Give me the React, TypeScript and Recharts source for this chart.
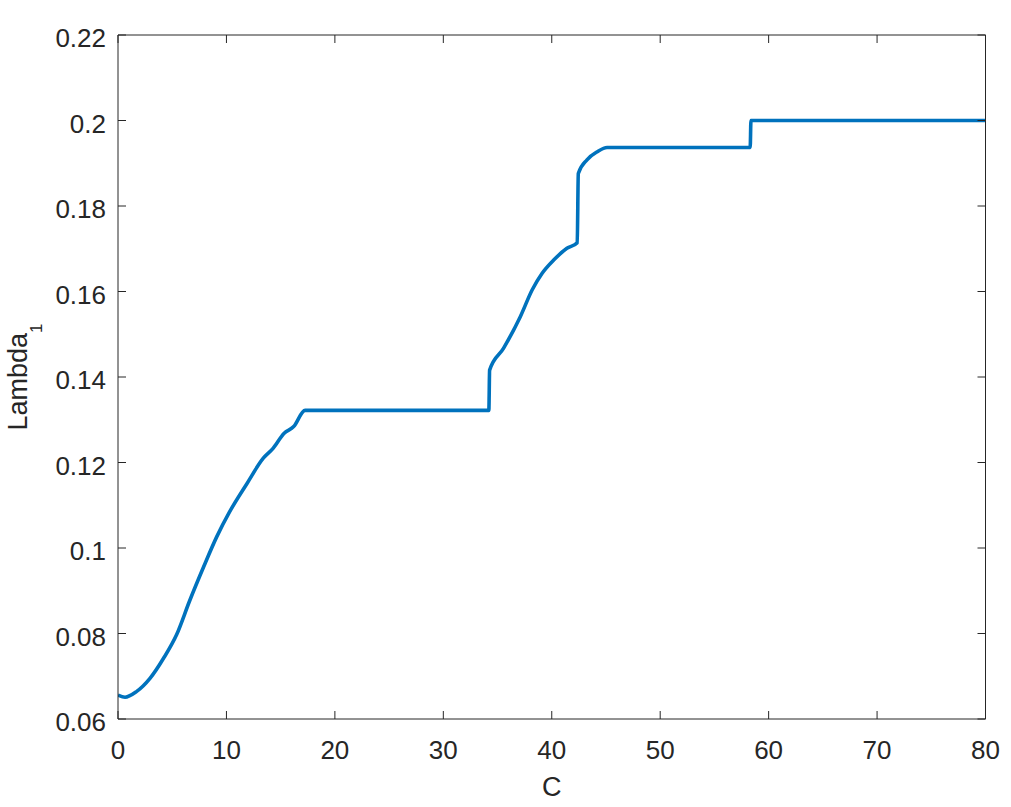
import { Label, Line, LineChart, XAxis, YAxis } from "recharts";

// values
const cValues = [
  0, 0.65, 1.7, 2.95, 4.2, 5.4, 6.6, 7.9, 9.1, 10.3, 11.9, 13.4, 14.3, 15.3, 16.2, 17.25,
  34.2, 34.27, 35.55, 37.1, 38.2, 39.1, 40.2, 41.4, 42.35, 42.45, 43.25, 44.2, 45.1,
  58.3, 58.37, 80,
];
const lambdaValues = [
  0.0656, 0.0651, 0.0664, 0.0695, 0.0742, 0.0797, 0.0876, 0.0956, 0.1026, 0.1085, 0.1151, 0.121, 0.1233, 0.1268,
  0.1284, 0.1322, 0.1322, 0.1416, 0.1467, 0.1541, 0.1604, 0.1642, 0.1674, 0.1701, 0.1714, 0.1876, 0.1908, 0.1927,
  0.1937, 0.1937, 0.2, 0.2,
];
const xTicks = [0, 10, 20, 30, 40, 50, 60, 70, 80];
const yTicks = [0.06, 0.08, 0.1, 0.12, 0.14, 0.16, 0.18, 0.2, 0.22];

const data = cValues.map((c, i) => ({ c, v: lambdaValues[i] }));

const AXIS = "#262626";
const FONT = "'Liberation Sans', Arial, Helvetica, sans-serif";
const TICK_LEN = 8;

function BottomTick({ x, y, payload }: any) {
  return (
    <g>
      <line x1={x} x2={x} y1={y} y2={y - TICK_LEN} stroke={AXIS} strokeWidth={1} />
      <text x={x} y={y + 40} textAnchor="middle" fill={AXIS} fontSize={26} fontFamily={FONT}>
        {payload.value}
      </text>
    </g>
  );
}

function LeftTick({ x, y, payload }: any) {
  return (
    <g>
      <line x1={x} x2={x + TICK_LEN} y1={y} y2={y} stroke={AXIS} strokeWidth={1} />
      <text x={x - 12} y={y + 12} textAnchor="end" fill={AXIS} fontSize={26} fontFamily={FONT}>
        {String(payload.value)}
      </text>
    </g>
  );
}

function TopTick({ x, y }: any) {
  return <line x1={x} x2={x} y1={y} y2={y + TICK_LEN} stroke={AXIS} strokeWidth={1} />;
}

function RightTick({ x, y }: any) {
  return <line x1={x} x2={x - TICK_LEN} y1={y} y2={y} stroke={AXIS} strokeWidth={1} />;
}

function YLabel({ viewBox }: any) {
  const cy = viewBox.y + viewBox.height / 2;
  return (
    <text
      transform={`translate(26.5,${cy}) rotate(-90)`}
      textAnchor="middle"
      fill={AXIS}
      fontSize={27}
      fontFamily={FONT}
    >
      Lambda
      <tspan fontSize={17} dy={15}>
        1
      </tspan>
    </text>
  );
}

export default function App() {
  return (
    <div style={{ position: "absolute", left: 0, top: 0, width: 1011, height: 807, background: "#fff" }}>
      <LineChart width={1011} height={807} data={data} margin={{ top: 34, right: 24.5, bottom: 0, left: 0 }}>
        <XAxis
          xAxisId="bottom"
          dataKey="c"
          type="number"
          domain={[0, 80]}
          ticks={xTicks}
          allowDataOverflow
          height={88}
          tickSize={0}
          tickMargin={0}
          tickLine={false}
          axisLine={{ stroke: AXIS, strokeWidth: 1 }}
          tick={<BottomTick />}
          label={{ value: "C", position: "insideBottom", offset: 11, fill: AXIS, fontSize: 27, fontFamily: FONT }}
        />
        <XAxis
          xAxisId="top"
          orientation="top"
          dataKey="c"
          type="number"
          domain={[0, 80]}
          ticks={xTicks}
          allowDataOverflow
          height={1}
          tickSize={0}
          tickMargin={0}
          tickLine={false}
          axisLine={{ stroke: AXIS, strokeWidth: 1 }}
          tick={<TopTick />}
        />
        <YAxis
          yAxisId="left"
          dataKey="v"
          type="number"
          domain={[0.06, 0.22]}
          ticks={yTicks}
          allowDataOverflow
          width={118}
          tickSize={0}
          tickMargin={0}
          tickLine={false}
          axisLine={{ stroke: AXIS, strokeWidth: 1 }}
          tick={<LeftTick />}
        >
          <Label content={<YLabel />} />
        </YAxis>
        <YAxis
          yAxisId="right"
          orientation="right"
          dataKey="v"
          type="number"
          domain={[0.06, 0.22]}
          ticks={yTicks}
          allowDataOverflow
          width={1}
          tickSize={0}
          tickMargin={0}
          tickLine={false}
          axisLine={{ stroke: AXIS, strokeWidth: 1 }}
          tick={<RightTick />}
        />
        <Line
          xAxisId="bottom"
          yAxisId="left"
          type="monotone"
          dataKey="v"
          stroke="#0072BD"
          strokeWidth={3.6}
          dot={false}
          activeDot={false}
          isAnimationActive={false}
        />
      </LineChart>
    </div>
  );
}
